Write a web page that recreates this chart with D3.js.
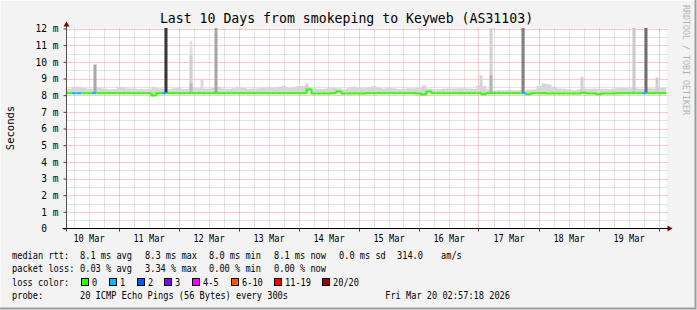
<!DOCTYPE html>
<html>
<head>
<meta charset="utf-8">
<script src="https://cdn.jsdelivr.net/npm/d3@7"></script>
<style>
  body { margin: 0; background: #f3f3f3; }
  text { font-family: "DejaVu Sans Mono", monospace; white-space: pre; }
</style>
</head>
<body>
<div id="chart"></div>
<script>
// global sizes
const W = 697, H = 310;
const plot = { left: 66.5, right: 666.5, top: 28.5, bottom: 228.5 };
const charW = 5.2;   // advance of one legend character

// time window: 10 days, one median sample every 2 hours
const startTime = new Date(Date.UTC(2026, 2, 10, 3, 12));
const endTime = new Date(Date.UTC(2026, 2, 20, 3, 12));
const stepHours = 2;

// median rtt (ms) for each 2h sample
const median = [
  8.12, 8.12, 8.12, 8.12, 8.12, 8.12, 8.12, 8.12, 8.12, 8.12,
  8.12, 8.12, 8.12, 8.12, 8.12, 8.12, 8.12, 7.98, 8.12, 8.12,
  8.12, 8.12, 8.12, 8.12, 8.12, 8.12, 8.12, 8.12, 8.12, 8.12,
  8.12, 8.12, 8.12, 8.12, 8.12, 8.12, 8.12, 8.12, 8.12, 8.12,
  8.12, 8.12, 8.12, 8.12, 8.12, 8.12, 8.12, 8.12, 8.34, 8.1,
  8.1, 8.1, 8.1, 8.12, 8.22, 8.1, 8.1, 8.1, 8.1, 8.1,
  8.12, 8.12, 8.12, 8.12, 8.12, 8.12, 8.12, 8.12, 8.12, 8.12,
  8.1, 8.04, 8.22, 8.12, 8.12, 8.12, 8.12, 8.12, 8.12, 8.12,
  8.12, 8.12, 8.12, 8.06, 8.12, 8.12, 8.12, 8.12, 8.12, 8.12,
  8.12, 8.12, 8.06, 8.12, 8.12, 8.12, 8.1, 8.1, 8.1, 8.1,
  8.1, 8.1, 8.1, 8.15, 8.1, 8.1, 8.06, 8.1, 8.1, 8.1,
  8.12, 8.12, 8.12, 8.12, 8.12, 8.12, 8.12, 8.12, 8.12, 8.12
];

// upper edge of the smoke (ms) for each 2h sample
const smokeHi = [
  8.38, 8.5, 8.5, 8.45, 8.38, 8.4, 8.45, 8.4, 8.35, 8.35,
  8.5, 8.48, 8.4, 8.4, 8.35, 8.35, 8.38, 8.5, 8.42, 8.4,
  8.35, 8.42, 8.45, 8.35, 8.38, 8.45, 8.42, 8.4, 8.4, 8.45,
  8.5, 8.4, 8.38, 8.42, 8.5, 8.45, 8.38, 8.4, 8.42, 8.48,
  8.5, 8.45, 8.5, 8.55, 8.45, 8.5, 8.55, 8.55, 8.45, 8.42,
  8.38, 8.38, 8.42, 8.45, 8.42, 8.35, 8.45, 8.5, 8.45, 8.42,
  8.48, 8.55, 8.45, 8.4, 8.45, 8.42, 8.35, 8.38, 8.42, 8.42,
  8.45, 8.6, 8.4, 8.35, 8.35, 8.38, 8.4, 8.4, 8.42, 8.42,
  8.4, 8.38, 8.6, 8.55, 8.35, 8.3, 8.3, 8.3, 8.32, 8.3,
  8.3, 8.3, 8.32, 8.35, 8.55, 8.7, 8.65, 8.5, 8.4, 8.38,
  8.35, 8.3, 8.35, 8.4, 8.38, 8.4, 8.38, 8.38, 8.35, 8.4,
  8.45, 8.45, 8.42, 8.45, 8.4, 8.38, 8.42, 8.4, 8.45, 8.45
];

// samples that lost pings (index into median) and how many
const lossIndex = [1, 2, 5, 19, 91, 115];
const lossCount = [1, 1, 1, 1, 1, 1];

// single spikes in the smoke: hours after start, top (ms), density of pings
const spikeHour = [11.4, 39.6, 49.6, 49.6, 49.6, 54.2, 59.6, 96.2, 165.8, 169.6, 169.6, 182.6, 206.2, 227, 231.6, 236.2];
const spikeTop = [9.84, 12.5, 11.24, 10.4, 8.7, 8.9, 12.5, 8.7, 9.2, 12.5, 9.2, 12.5, 9.1, 12.5, 12.5, 9.06];
const spikeDensity = [0.33, 0.87, 0.07, 0.14, 0.25, 0.1, 0.35, 0.14, 0.12, 0.14, 0.27, 0.52, 0.14, 0.18, 0.6, 0.15];

// y ticks
const yTicks = [0, 1, 2, 3, 4, 5, 6, 7, 8, 9, 10, 11, 12];

// legend values
const lossLabels = ["0", "1", "2", "3", "4-5", "6-10", "11-19", "20/20"];
const lossColors = ["#26ff00", "#00b8ff", "#0059ff", "#7e00ff", "#ff00ff", "#ff5500", "#ff0000", "#a10000"];
const rttStats = ["8.1 ms avg", "8.3 ms max", "8.0 ms min", "8.1 ms now", "0.0 ms sd", "314.0", "am/s"];
const lossStats = ["0.03 % avg", "3.34 % max", "0.00 % min", "0.00 % now"];
const probeText = "20 ICMP Echo Pings (56 Bytes) every 300s";
const stampText = "Fri Mar 20 02:57:18 2026";
const titleText = "Last 10 Days from smokeping to Keyweb (AS31103)";

var svg, x, y, shade;

document.addEventListener('DOMContentLoaded', function () {
    svg = d3.select("#chart").append("svg")
        .attr("width", W)
        .attr("height", H);

    x = d3.scaleTime().domain([startTime, endTime]).range([plot.left, plot.right]);
    y = d3.scaleLinear().domain([0, 12]).range([plot.bottom, plot.top]);
    shade = d3.scaleLinear().domain([0, 1]).range(["#eeeeee", "#1a1a1a"]);

    drawFrame();
    drawGrid();
    drawSmoke();
    drawMedian();
    drawAxes();
    addLabels();
    addLegends();
});

function sampleTime(i) {
    return d3.utcHour.offset(startTime, i * stepHours);
}

function drawFrame() {
    svg.append("rect").attr("width", W).attr("height", H).attr("fill", "#f3f3f3");
    svg.append("path").attr("d", `M0.5,${H} V0.5 H${W}`).attr("fill", "none").attr("stroke", "#fcfcfc");
    svg.append("path").attr("d", `M0,${H - 1.5} H${W - 1.5} V0`).attr("fill", "none").attr("stroke", "#9d9d9d").attr("stroke-width", 2);
    svg.append("rect")
        .attr("x", plot.left).attr("y", plot.top)
        .attr("width", plot.right - plot.left).attr("height", plot.bottom - plot.top)
        .attr("fill", "#ffffff");

    svg.append("clipPath").attr("id", "clip")
        .append("rect")
        .attr("x", plot.left).attr("y", plot.top - 0.5)
        .attr("width", plot.right - plot.left).attr("height", plot.bottom - plot.top);
}

function drawGrid() {
    var g = svg.append("g").attr("class", "grid");
    var minorX = d3.utcHour.every(6).range(startTime, endTime).filter(d => d.getUTCHours() !== 0);
    var majorX = d3.utcDay.range(startTime, endTime);
    var minorY = d3.range(1, 24, 2).map(v => v / 2);

    g.selectAll(".minor-x").data(minorX).enter().append("line")
        .attr("x1", d => Math.round(x(d)) + 0.5).attr("x2", d => Math.round(x(d)) + 0.5)
        .attr("y1", plot.top).attr("y2", plot.bottom)
        .attr("stroke", "#c8c8c8").attr("stroke-dasharray", "1,1");

    g.selectAll(".minor-y").data(minorY).enter().append("line")
        .attr("x1", plot.left).attr("x2", plot.right + 2)
        .attr("y1", d => Math.round(y(d)) + 0.5).attr("y2", d => Math.round(y(d)) + 0.5)
        .attr("stroke", "#c8c8c8").attr("stroke-dasharray", "1,1");

    g.selectAll(".major-x").data(majorX).enter().append("line")
        .attr("x1", d => Math.round(x(d)) + 0.5).attr("x2", d => Math.round(x(d)) + 0.5)
        .attr("y1", plot.top).attr("y2", plot.bottom)
        .attr("stroke", "#ff9090").attr("stroke-dasharray", "1,1");

    g.selectAll(".major-y").data(yTicks.slice(1)).enter().append("line")
        .attr("x1", plot.left).attr("x2", plot.right + 2)
        .attr("y1", d => Math.round(y(d)) + 0.5).attr("y2", d => Math.round(y(d)) + 0.5)
        .attr("stroke", "#ff9090").attr("stroke-dasharray", "1,1");
}

function drawSmoke() {
    var g = svg.append("g").attr("clip-path", "url(#clip)");

    var area = d3.area()
        .curve(d3.curveStepAfter)
        .x((d, i) => x(sampleTime(i)))
        .y0((d, i) => y(median[Math.min(i, median.length - 1)]))
        .y1(d => y(d));

    g.append("path")
        .datum(smokeHi.concat([smokeHi[smokeHi.length - 1]]))
        .attr("d", area)
        .attr("fill", shade(0.11));

    g.selectAll(".spike").data(spikeHour).enter().append("rect")
        .attr("x", d => Math.round(x(d3.utcMinute.offset(startTime, d * 60))) - 1.5)
        .attr("width", 3)
        .attr("y", (d, i) => y(spikeTop[i]))
        .attr("height", (d, i) => y(8.12) - y(spikeTop[i]))
        .attr("fill", (d, i) => shade(spikeDensity[i]));
}

function drawMedian() {
    var g = svg.append("g").attr("clip-path", "url(#clip)");
    var loss = median.map(() => 0);
    lossIndex.forEach((k, j) => { loss[k] = lossCount[j]; });

    var line = d3.line().x(d => x(d[0])).y(d => y(d[1]));

    g.selectAll(".median").data(median).enter().append("path")
        .attr("d", function (d, i) {
            var prev = i > 0 ? median[i - 1] : d;
            return line([[sampleTime(i), prev], [sampleTime(i), d], [sampleTime(i + 1), d]]);
        })
        .attr("fill", "none")
        .attr("stroke", (d, i) => lossColors[loss[i]])
        .attr("stroke-width", 2);
}

function drawAxes() {
    // y ticks and labels
    var yAxis = svg.append("g")
        .attr("transform", `translate(${plot.left},0)`)
        .call(d3.axisLeft(y)
            .tickValues(yTicks)
            .tickSize(3)
            .tickPadding(5)
            .tickFormat(d => d === 0 ? "0\u00a0\u00a0" : d + " m"));
    yAxis.select(".domain").remove();
    yAxis.selectAll("line").attr("stroke", "#404040");
    yAxis.selectAll("text")
        .style("font-family", "DejaVu Sans Mono")
        .style("font-size", "10.2px")
        .attr("fill", "#000")
        .attr("textLength", function () { return this.textContent.length * 5.75; })
        .attr("lengthAdjust", "spacingAndGlyphs");

    // x labels at noon of each day
    var noons = d3.utcDay.range(d3.utcDay.floor(startTime), endTime)
        .map(d => d3.utcHour.offset(d, 12))
        .filter(d => d > startTime && d < endTime);
    var xAxis = svg.append("g")
        .attr("transform", `translate(0,${plot.bottom})`)
        .call(d3.axisBottom(x)
            .tickValues(noons)
            .tickSize(0)
            .tickPadding(6)
            .tickFormat(d3.utcFormat("%d %b")));
    xAxis.select(".domain").remove();
    xAxis.selectAll("text")
        .style("font-family", "DejaVu Sans Mono")
        .style("font-size", "10.2px")
        .attr("fill", "#000")
        .attr("textLength", 6 * charW)
        .attr("lengthAdjust", "spacingAndGlyphs");

    // small ticks under the time axis
    var days = d3.utcDay.range(startTime, endTime);
    svg.selectAll(".xtick").data(days).enter().append("line")
        .attr("x1", d => Math.round(x(d)) + 0.5).attr("x2", d => Math.round(x(d)) + 0.5)
        .attr("y1", plot.bottom).attr("y2", plot.bottom + 3)
        .attr("stroke", "#404040");

    // axis lines
    svg.append("line")
        .attr("x1", plot.left).attr("x2", plot.left)
        .attr("y1", plot.bottom + 3).attr("y2", plot.top - 4)
        .attr("stroke", "#505050");
    svg.append("line")
        .attr("x1", plot.left - 4).attr("x2", plot.right + 2)
        .attr("y1", plot.bottom).attr("y2", plot.bottom)
        .attr("stroke", "#000");

    // arrows
    svg.append("path")
        .attr("d", `M${plot.left - 3},${plot.top - 2} L${plot.left + 3},${plot.top - 2} L${plot.left},${plot.top - 7} Z`)
        .attr("fill", "#7f0000");
    svg.append("path")
        .attr("d", `M${plot.right + 1},${plot.bottom - 3} L${plot.right + 1},${plot.bottom + 3} L${plot.right + 6},${plot.bottom} Z`)
        .attr("fill", "#7f0000");
}

function addLabels() {
    svg.append("text")
        .attr("x", 346.5).attr("y", 23)
        .attr("text-anchor", "middle")
        .style("font-size", "13.2px")
        .text(titleText);

    svg.append("text")
        .attr("transform", "translate(14,128) rotate(-90)")
        .attr("text-anchor", "middle")
        .style("font-size", "10.5px")
        .text("Seconds");

    svg.append("text")
        .attr("transform", "translate(683,5) rotate(90)")
        .attr("text-anchor", "start")
        .attr("fill", "#b4b4b4")
        .style("font-size", "8.3px")
        .text("RRDTOOL / TOBI OETIKER");
}

// monospace legend text squeezed to the reference advance
function legendText(g, px, py, str, anchor) {
    return g.append("text")
        .attr("x", px).attr("y", py)
        .attr("text-anchor", anchor || "start")
        .attr("textLength", str.length * charW)
        .attr("lengthAdjust", "spacingAndGlyphs")
        .text(str);
}

function addLegends() {
    var leg = svg.append("g").style("font-size", "10.2px");
    var statX = [80, 145, 209, 274, 339, 397, 441];

    legendText(leg, 12, 258.5, "median rtt:");
    rttStats.forEach((s, i) => legendText(leg, statX[i], 258.5, s));

    legendText(leg, 12, 272, "packet loss:");
    lossStats.forEach((s, i) => legendText(leg, statX[i], 272, s));

    legendText(leg, 12, 285.5, "loss color:");
    var boxX = [81, 109, 137, 164, 192, 231, 274, 322];
    lossLabels.forEach(function (lab, i) {
        leg.append("rect")
            .attr("x", boxX[i] + 0.5).attr("y", 278.5)
            .attr("width", 7).attr("height", 7)
            .attr("fill", lossColors[i])
            .attr("stroke", "#000");
        legendText(leg, boxX[i] + 11, 285.5, lab);
    });

    legendText(leg, 12, 299, "probe:");
    legendText(leg, 80, 299, probeText);
    legendText(leg, 510, 299, stampText, "end");
}
</script>
</body>
</html>
